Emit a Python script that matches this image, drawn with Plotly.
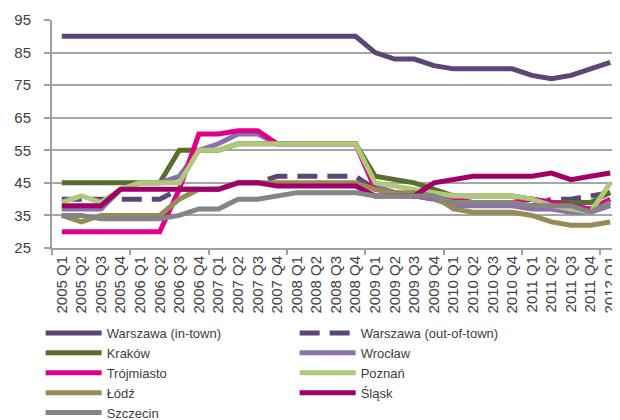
import plotly.graph_objects as go

# Quarters
quarters = [f"{y} Q{q}" for y in range(2005, 2012) for q in range(1, 5)] + ["2012 Q1"]

# Series values
warszawa_in = [90, 90, 90, 90, 90, 90, 90, 90, 90, 90, 90, 90, 90, 90, 90, 90,
               85, 83, 83, 81, 80, 80, 80, 80, 78, 77, 78, 80, 82]
warszawa_out = [40, 40, 40, 40, 40, 40, 43, 43, 43, 45, 45, 47, 47, 47, 47, 47,
                43, 42, 41, 40, 39, 39, 39, 39, 38, 40, 40, 41, 42]
krakow = [45, 45, 45, 45, 45, 45, 55, 55, 55, 57, 57, 57, 57, 57, 57, 57,
          47, 46, 45, 43, 41, 41, 41, 41, 40, 39, 39, 39, 42]
wroclaw = [37, 37, 37, 43, 45, 45, 47, 55, 57, 60, 60, 57, 57, 57, 57, 57,
           44, 42, 41, 40, 38, 38, 38, 38, 37, 37, 36, 36, 38]
trojmiasto = [30, 30, 30, 30, 30, 30, 43, 60, 60, 61, 61, 57, 57, 57, 57, 57,
              43, 42, 41, 41, 40, 39, 39, 39, 40, 39, 38, 37, 40]
poznan = [39, 41, 39, 43, 45, 45, 45, 55, 55, 57, 57, 57, 57, 57, 57, 57,
          45, 44, 43, 42, 41, 41, 41, 41, 40, 38, 37, 36, 45]
lodz = [35, 33, 35, 35, 35, 35, 40, 43, 43, 45, 45, 45, 45, 45, 45, 45,
        43, 42, 42, 41, 37, 36, 36, 36, 35, 33, 32, 32, 33]
slask = [38, 38, 38, 43, 43, 43, 43, 43, 43, 45, 45, 44, 44, 44, 44, 44,
         41, 41, 41, 45, 46, 47, 47, 47, 47, 48, 46, 47, 48]
szczecin = [35, 35, 34, 34, 34, 34, 35, 37, 37, 40, 40, 41, 42, 42, 42, 42,
            41, 41, 41, 41, 39, 39, 39, 39, 38, 38, 38, 36, 39]

series = [
    ("Warszawa (in-town)", warszawa_in, "#5a4777", "solid"),
    ("Warszawa (out-of-town)", warszawa_out, "#5a4777", "20px,10px"),
    ("Kraków", krakow, "#586f2c", "solid"),
    ("Wrocław", wroclaw, "#8a70ad", "solid"),
    ("Trójmiasto", trojmiasto, "#e0008c", "solid"),
    ("Poznań", poznan, "#afc97a", "solid"),
    ("Łódź", lodz, "#978b55", "solid"),
    ("Śląsk", slask, "#a00068", "solid"),
    ("Szczecin", szczecin, "#848484", "solid"),
]

fig = go.Figure()

for name, vals, color, dash in series:
    fig.add_trace(go.Scatter(
        x=quarters, y=vals, mode="lines", name=name,
        line=dict(color=color, width=5, dash=dash),
    ))

# empty trace so the tick-only overlay axis gets drawn
fig.add_trace(go.Scatter(x=[], y=[], xaxis="x2", showlegend=False, hoverinfo="skip"))

# tick marks every 4 quarters (category boundaries)
boundaries = [i - 0.5 for i in range(0, 29, 4)]

# page body has an 8px margin, so the figure is 8px smaller each way
fig.update_layout(
    width=612, height=412,
    margin=dict(l=44, r=0, t=12, b=172, autoexpand=False),
    paper_bgcolor="white", plot_bgcolor="white",
    font=dict(family="Liberation Sans, Arial, sans-serif", size=14, color="#404040"),
    showlegend=True,
    legend=dict(
        orientation="h", x=-0.02, xanchor="left", y=-0.307, yanchor="top",
        entrywidth=183, entrywidthmode="pixels", itemwidth=56,
        font=dict(size=13, color="#404040"), tracegroupgap=0,
    ),
    xaxis=dict(
        type="category", range=[-0.5, 28.5], automargin=False,
        tickangle=-90, ticks="", showgrid=False,
        showline=True, linecolor="#a0a0a0", linewidth=2,
        tickfont=dict(size=15),
    ),
    xaxis2=dict(
        overlaying="x", anchor="y", side="bottom", range=[-0.5, 28.5],
        tickmode="array", tickvals=boundaries, showticklabels=False,
        ticks="outside", ticklen=6, tickcolor="#a0a0a0", tickwidth=2,
        showgrid=False, showline=False, zeroline=False, automargin=False,
    ),
    yaxis=dict(
        range=[25, 95], tick0=25, dtick=10, automargin=False,
        showgrid=True, gridcolor="#a6a6a6", gridwidth=2,
        showline=True, linecolor="#a0a0a0", linewidth=2,
        ticks="outside", ticklen=6, tickcolor="#a0a0a0", tickwidth=2,
        ticklabelstandoff=10,
        zeroline=False, tickfont=dict(size=15),
    ),
)

fig.write_html("out.html")
